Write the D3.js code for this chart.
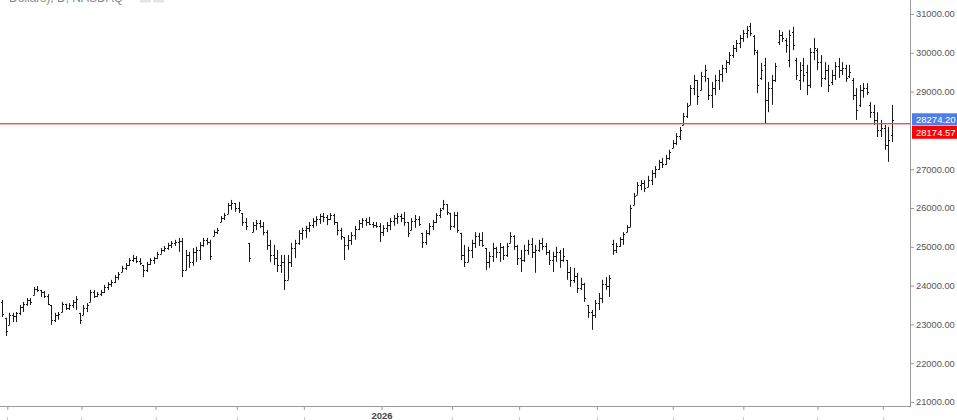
<!DOCTYPE html>
<html><head><meta charset="utf-8">
<script src="https://cdn.jsdelivr.net/npm/d3@7"></script>
<style>html,body{margin:0;padding:0;background:#fff;overflow:hidden}svg{display:block}</style>
</head><body>
<svg id="c" width="957" height="420"></svg>
<script>
const opens = [
23580,23170,22990,23240,23220,23300,23450,23530,23630,23760,
23910,23890,23840,23730,23500,23120,23240,23320,23530,23420,
23500,23580,23300,23240,23420,23580,23840,23730,23780,23840,
23970,24040,24090,24220,24350,24460,24530,24660,24710,24640,
24530,24400,24560,24660,24710,24820,24920,24970,25050,25100,
25120,25150,24400,24790,24610,24870,24920,25050,25180,25120,
25280,25380,25640,25740,25850,26080,26130,26000,25870,25640,
25100,25380,25560,25610,25540,25380,25050,24790,24710,24530,
24610,24150,24610,24970,25100,25360,25430,25490,25560,25670,
25720,25790,25770,25720,25820,25640,25430,25250,25050,25180,
25300,25460,25610,25690,25640,25590,25560,25540,25380,25490,
25560,25670,25740,25790,25740,25640,25430,25670,25720,25360,
25120,25360,25540,25640,25820,26000,26100,25870,25540,25820,
25360,24790,24610,24920,25100,25280,25180,24970,24610,24760,
24970,24870,25000,24790,25100,25280,25020,24710,24660,24920,
25070,24870,24920,25100,25020,24870,24660,24760,24870,24660,
24660,24350,24150,24250,23940,24040,23500,23320,23240,23550,
23680,24040,23990,25070,24920,25020,25200,25380,25510,26080,
26340,26590,26650,26540,26720,26900,27010,27190,27130,27290,
27550,27680,27860,28140,28370,28660,29090,29300,29040,29400,
29350,28910,29090,29300,29450,29610,29760,29940,30120,30250,
30380,30510,30690,30430,30020,29350,29690,28780,29090,29300,
30280,30460,30330,29810,30540,29810,29300,29690,29510,29170,
30020,30070,29760,29350,29560,29250,29430,29660,29560,29610,
29400,29300,28910,28660,29040,29090,28660,28470,28270,28010,
28060,27620,27880];
const highs = [
23630,23170,23300,23300,23320,23500,23580,23680,23680,23970,
23990,23890,23860,23780,23500,23300,23320,23580,23530,23550,
23630,23730,23300,23500,23550,23890,23890,23840,23890,24020,
24090,24150,24270,24350,24510,24580,24710,24790,24760,24710,
24530,24610,24710,24740,24870,24970,25020,25100,25150,25180,
25230,25230,24920,24870,24970,25000,25120,25230,25230,25180,
25430,25490,25790,25870,26130,26210,26130,26160,25870,25740,
25100,25640,25690,25690,25640,25430,25180,25050,24920,24790,
24790,24790,25100,25180,25430,25490,25540,25640,25740,25790,
25850,25870,25820,25870,25850,25640,25490,25250,25300,25380,
25540,25690,25740,25740,25770,25640,25640,25610,25560,25640,
25740,25820,25870,25850,25900,25640,25740,25820,25790,25360,
25430,25610,25690,25870,26000,26210,26100,25870,25900,25900,
25360,25050,25000,25180,25380,25360,25380,24970,24870,25100,
25000,25100,25020,25100,25380,25300,25050,24920,25050,25180,
25230,25050,25180,25230,25100,24920,24870,25000,24920,24970,
24660,24480,24460,24330,24200,24070,23500,23370,23630,23810,
24150,24220,24270,25180,25100,25250,25380,25560,26080,26390,
26670,26720,26720,26830,26980,27080,27240,27290,27370,27500,
27750,27930,28090,28450,28710,29170,29430,29300,29510,29690,
29350,29250,29430,29560,29690,29810,30020,30200,30330,30460,
30590,30690,30770,30460,30070,29740,29870,29250,29430,29740,
30590,30540,30380,30590,30670,29870,29760,29870,29690,30120,
30380,30120,29940,29760,29690,29560,29760,29870,29760,29690,
29690,29350,29090,29170,29220,29220,28730,28660,28470,28270,
28140,28090,28660];
const lows = [
23190,22700,22990,23060,23060,23240,23320,23480,23500,23760,
23840,23710,23680,23500,22990,23060,23120,23320,23370,23370,
23420,23370,23010,23240,23320,23580,23680,23710,23730,23810,
23890,23970,24070,24150,24350,24400,24510,24610,24580,24530,
24220,24350,24530,24560,24690,24820,24870,24920,24970,25020,
24870,24220,24400,24460,24510,24610,24660,25000,25050,24660,
25280,25330,25640,25690,25850,25950,25900,25870,25540,25430,
24610,25380,25430,25490,25300,24920,24610,24530,24350,24330,
23890,24150,24480,24710,25050,25180,25230,25380,25490,25540,
25590,25640,25560,25690,25560,25300,25180,24660,24920,25050,
25180,25430,25490,25540,25560,25490,25490,25120,25280,25380,
25430,25540,25590,25640,25540,25250,25430,25490,25540,24970,
25050,25300,25430,25610,25740,25950,25820,25430,25490,25360,
24660,24480,24610,24710,24970,25020,25000,24400,24460,24610,
24710,24610,24660,24740,25100,24920,24530,24350,24610,24790,
24710,24330,24870,24920,24790,24530,24350,24610,24460,24610,
24150,23970,24070,23810,23890,23580,23170,22860,23170,23370,
23550,23890,23710,24790,24840,25000,25050,25380,25510,26080,
26340,26460,26410,26540,26590,26770,26980,27030,27110,27240,
27550,27620,27750,28140,28320,28660,28910,28660,29040,29250,
28780,28580,28910,29040,29250,29480,29690,29870,30020,30120,
30280,30380,30430,29940,28960,29300,28190,28470,28660,29250,
30200,30280,30000,29630,30070,29300,29040,29250,28910,29090,
29810,29560,29120,29300,28990,29170,29300,29350,29430,29250,
29350,28780,28270,28600,28840,28910,28320,28140,27830,27830,
27500,27190,27700];
const closes = [
23270,22830,23240,23220,23300,23450,23530,23630,23580,23910,
23890,23840,23730,23530,23120,23240,23270,23530,23420,23500,
23580,23660,23120,23420,23500,23840,23730,23780,23840,23970,
24040,24090,24220,24300,24460,24530,24660,24710,24640,24580,
24400,24560,24660,24710,24820,24920,24970,25050,25100,25120,
25150,24400,24790,24610,24870,24920,25050,25180,25120,24760,
25380,25430,25740,25820,26080,26130,26000,25950,25640,25540,
24710,25560,25610,25540,25380,25050,24790,24710,24530,24610,
24150,24610,24970,25100,25360,25430,25490,25560,25670,25720,
25790,25770,25720,25820,25640,25430,25280,25050,25180,25300,
25460,25610,25690,25640,25590,25560,25540,25380,25490,25560,
25670,25740,25790,25740,25640,25360,25670,25720,25590,25120,
25360,25540,25640,25820,25950,26100,25900,25540,25820,25430,
24790,24610,24920,25100,25280,25180,25050,24610,24760,24970,
24870,25000,24790,25020,25280,25020,24710,24660,24920,25070,
24870,24920,25100,25020,24870,24660,24760,24870,24660,24760,
24350,24150,24250,23940,24040,23680,23320,23240,23550,23680,
24040,23990,24200,24920,25020,25200,25330,25510,26000,26310,
26590,26650,26520,26720,26900,27010,27190,27130,27290,27440,
27680,27860,28010,28370,28630,29090,29300,28890,29400,29560,
28910,29090,29300,29450,29610,29760,29940,30120,30250,30380,
30510,30590,30510,30070,29170,29560,28780,29090,29300,29660,
30460,30380,30200,30460,30200,29430,29560,29430,29170,30020,
30120,29760,29350,29560,29170,29430,29660,29560,29610,29350,
29510,28910,28530,29040,29090,28990,28470,28270,28010,28060,
27620,27750,28274.20];

const yTicks = [21000,22000,23000,24000,25000,26000,27000,29000,30000,31000];
const monthTickIdx = [1.5,22.5,43.5,66.5,85.5,107.5,127.5,146.5,168.5,190,210,231,249.5];
const monthTickLabels = ["","","","","","2026","","","","","","",""];
const lastPrice = 28274.20;
const refLevel = 28174.57;
const titleText = "Dollars), D, NASDAQ";

const svg = d3.select("#c");
const n = closes.length;
const x = d3.scaleLinear().domain([0, n - 1]).range([2, 891.6]);
const y = d3.scaleLinear().domain([21000, 31000]).range([402, 14]);
const axisX = 910, axisY = 406;
const axisColor = "#9a9a9a";
const font = "Liberation Sans, Arial, sans-serif";

// title (cropped at top)
svg.append("text").attr("x", 123).attr("y", 1.5).attr("text-anchor", "end")
  .attr("font-family", font).attr("font-size", 12)
  .attr("fill", "#8a8a8a").text(titleText);
svg.append("rect").attr("x", 140).attr("y", -6).attr("width", 11).attr("height", 8.5).attr("fill", "#e4e4e4");
svg.append("rect").attr("x", 153).attr("y", -6).attr("width", 11).attr("height", 8.5).attr("fill", "#e4e4e4");

// bars
const crisp = v => Math.round(v) + 0.5;
const g = svg.append("g").attr("stroke", "#1a1a1a").attr("stroke-width", 1).attr("fill", "none");
g.selectAll("path").data(d3.range(n)).join("path")
  .attr("d", i => {
    const xi = crisp(x(i));
    const yh = y(highs[i]), yl = y(lows[i]);
    const yo = crisp(y(opens[i])), yc = crisp(y(closes[i]));
    return `M${xi},${yh.toFixed(1)}V${Math.max(yl, yh + 2).toFixed(1)}` +
           `M${xi - 1.5},${yo}H${xi}` +
           `M${xi},${yc}H${xi + 1.5}`;
  });

// reference line
svg.append("rect").attr("class", "refline").attr("x", 0).attr("width", axisX)
  .attr("y", Math.round(y(refLevel)) - 1).attr("height", 1.4)
  .attr("fill", "#f25050");

// right axis
const ra = svg.append("g").attr("transform", `translate(${axisX},0)`)
  .call(d3.axisRight(y).tickValues(yTicks).tickSize(4).tickPadding(2).tickFormat(d3.format(".2f")));
ra.select(".domain").remove();
ra.selectAll("line").attr("stroke", axisColor);
ra.selectAll("text").attr("font-family", font).attr("font-size", 9.3).attr("fill", "#555");
svg.append("line").attr("x1", axisX + 0.5).attr("x2", axisX + 0.5).attr("y1", 0).attr("y2", axisY)
  .attr("stroke", axisColor);

// bottom axis
svg.append("line").attr("x1", 0).attr("x2", axisX + 1).attr("y1", axisY + 0.5).attr("y2", axisY + 0.5)
  .attr("stroke", axisColor);
const ba = svg.append("g").attr("transform", `translate(0,${axisY})`)
  .call(d3.axisBottom(x).tickValues(monthTickIdx).tickSize(4).tickPadding(2)
    .tickFormat((d, i) => monthTickLabels[i]));
ba.select(".domain").remove();
ba.selectAll("line").attr("stroke", axisColor);
ba.selectAll("text").attr("font-family", font).attr("font-size", 9.5)
  .attr("font-weight", "bold").attr("fill", "#444");
svg.append("g").selectAll("line").data(monthTickIdx).join("line")
  .attr("x1", d => crisp(x(d))).attr("x2", d => crisp(x(d))).attr("y1", 417).attr("y2", 420)
  .attr("stroke", "#c8c8c8");

// price labels
const yb = y(lastPrice);
const lab = svg.append("g").attr("font-family", font).attr("font-size", 9.5);
lab.append("rect").attr("x", axisX + 2).attr("y", yb - 6.5).attr("width", 957 - axisX - 2).attr("height", 12).attr("fill", "#4f7fe6");
lab.append("text").attr("x", 916).attr("y", yb - 0.5).attr("dy", "0.35em").attr("fill", "#fff").text(d3.format(".2f")(lastPrice));
lab.append("rect").attr("x", axisX + 2).attr("y", yb + 6).attr("width", 957 - axisX - 2).attr("height", 13).attr("fill", "#ff0000");
lab.append("text").attr("x", 916).attr("y", yb + 12.5).attr("dy", "0.35em").attr("fill", "#fff").text(d3.format(".2f")(refLevel));
</script>
</body></html>
